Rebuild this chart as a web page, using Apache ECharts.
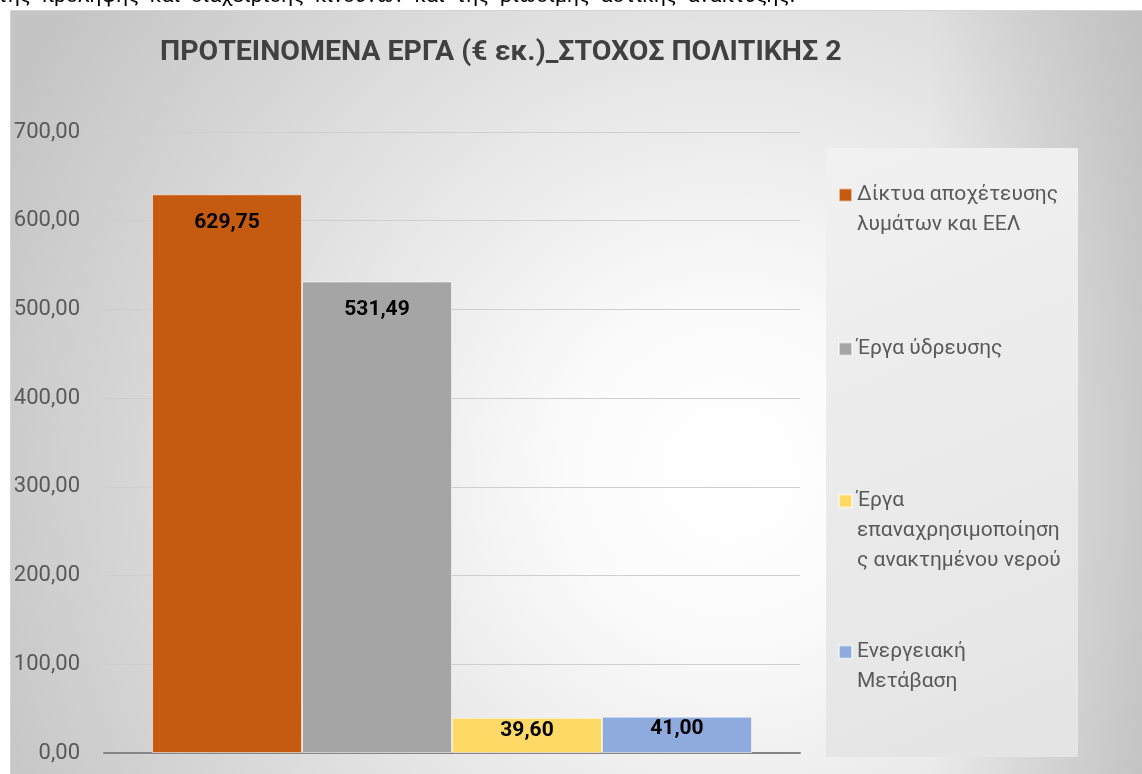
<!DOCTYPE html>
<html>
<head>
<meta charset="utf-8">
<title>ΠΡΟΤΕΙΝΟΜΕΝΑ ΕΡΓΑ</title>
<script src="https://cdn.jsdelivr.net/npm/echarts@6/dist/echarts.min.js"></script>
<style>
  html, body { margin: 0; padding: 0; background: #fff; }
  #chart { width: 1142px; height: 774px; }
</style>
</head>
<body>
<div id="chart"></div>
<script>
  // data
  var categories = ['ΣΤΟΧΟΣ ΠΟΛΙΤΙΚΗΣ 2'];
  var seriesNames = [
    'Δίκτυα αποχέτευσης λυμάτων και ΕΕΛ',
    'Έργα ύδρευσης',
    'Έργα επαναχρησιμοποίησης ανακτημένου νερού',
    'Ενεργειακή Μετάβαση'
  ];
  // how the legend wraps each name
  var legendLines = [
    ['Δίκτυα αποχέτευσης', 'λυμάτων και ΕΕΛ'],
    ['Έργα ύδρευσης'],
    ['Έργα', 'επαναχρησιμοποίηση', 'ς ανακτημένου νερού'],
    ['Ενεργειακή', 'Μετάβαση']
  ];
  var seriesValues = [629.75, 531.49, 39.60, 41.00];
  var yTicks = [0, 100, 200, 300, 400, 500, 600, 700];

  var colors = ['#C55A11', '#A5A5A5', '#FFD966', '#8FAADC'];
  var font = 'Roboto, "Noto Sans", sans-serif';
  var lineH = 30;

  function fmt(v) {
    return v.toFixed(2).replace('.', ',');
  }

  var chart = echarts.init(document.getElementById('chart'));

  var series = seriesNames.map(function (name, i) {
    return {
      name: name,
      type: 'bar',
      data: [seriesValues[i]],
      barGap: '0%',
      barCategoryGap: '13.8%',
      itemStyle: {
        color: colors[i],
        borderColor: 'rgba(255,255,255,0.55)',
        borderWidth: 1
      },
      label: {
        show: true,
        position: 'insideTop',
        // tall bars have the label lower down, short ones hug the top
        distance: seriesValues[i] > 100 ? 18 : 2,
        color: '#000',
        fontFamily: font,
        fontWeight: 'bold',
        fontSize: 21,
        formatter: function (p) { return fmt(p.value); }
      },
      emphasis: { disabled: true }
    };
  });

  // one legend per item so the entries sit at even steps like the original.
  // the icon is centred on the text block, so blank lines are put in front
  // to bring the first real line level with the square
  var legendTops = [195, 349, 501, 652];
  var legends = seriesNames.map(function (name, i) {
    var n = legendLines[i].length;
    var pad = '';
    for (var k = 1; k < n; k++) pad += ' \n';
    return {
      data: [name],
      orient: 'vertical',
      left: 838,
      top: legendTops[i] - (2 * n - 1) * lineH / 2,
      padding: 0,
      itemWidth: 13,
      itemHeight: 13,
      icon: 'rect',
      selectedMode: false,
      formatter: function () { return pad + legendLines[i].join('\n'); },
      textStyle: {
        color: '#595959',
        fontFamily: font,
        fontSize: 21,
        lineHeight: lineH
      }
    };
  });

  var option = {
    animation: false,
    backgroundColor: '#ffffff',
    title: {
      text: 'ΠΡΟΤΕΙΝΟΜΕΝΑ ΕΡΓΑ (€ εκ.)_ΣΤΟΧΟΣ ΠΟΛΙΤΙΚΗΣ 2',
      left: 160,
      top: 38,
      padding: 0,
      textStyle: {
        color: '#404040',
        fontFamily: font,
        fontWeight: 'bold',
        fontSize: 28.5
      }
    },
    graphic: [
      {
        type: 'rect',
        z: -10,
        shape: { x: 10.5, y: 10.5, width: 1140, height: 770 },
        style: {
          fill: {
            type: 'radial', x: 0.63, y: 0.6, r: 1.05,
            colorStops: [
              { offset: 0, color: '#ffffff' },
              { offset: 0.2, color: '#fbfbfb' },
              { offset: 1, color: '#c4c4c4' }
            ]
          },
          stroke: '#d4d4d4',
          lineWidth: 1
        }
      },
      {
        // the right side of the chart area goes darker faster
        type: 'rect',
        z: -10,
        zlevel: 0,
        shape: { x: 930, y: 11, width: 212, height: 763 },
        style: {
          fill: {
            type: 'linear', x: 0, y: 0, x2: 1, y2: 0,
            colorStops: [
              { offset: 0, color: 'rgba(175,175,175,0)' },
              { offset: 1, color: 'rgba(175,175,175,0.55)' }
            ]
          }
        }
      },
      {
        type: 'rect',
        z: -9,
        shape: { x: 826, y: 148, width: 252, height: 609 },
        style: {
          fill: {
            type: 'linear', x: 0, y: 0, x2: 1, y2: 1,
            colorStops: [
              { offset: 0, color: '#f1f1f1' },
              { offset: 1, color: '#e4e4e4' }
            ]
          }
        }
      },
      {
        // the line of text above the chart, cut off by the page edge
        type: 'text',
        x: -3,
        y: -3,
        style: {
          text: 'της  πρόληψης  και  διαχείρισης  κινδύνων  και  της  βιώσιμης  αστικής  ανάπτυξης.',
          fill: '#000',
          font: '21px ' + font,
          verticalAlign: 'middle'
        }
      }
    ],
    legend: legends,
    grid: {
      left: 104,
      right: 342,
      top: 132,
      bottom: 21
    },
    xAxis: {
      type: 'category',
      data: categories,
      axisTick: { show: false },
      axisLabel: { show: false },
      axisLine: { lineStyle: { color: '#858585', width: 2 } }
    },
    yAxis: {
      type: 'value',
      min: yTicks[0],
      max: yTicks[yTicks.length - 1],
      interval: yTicks[1] - yTicks[0],
      axisLine: { show: false },
      axisTick: { show: false },
      axisLabel: {
        margin: 24,
        color: '#595959',
        fontFamily: font,
        fontSize: 22,
        formatter: fmt
      },
      splitLine: { lineStyle: { color: '#cfcfcf', width: 1 } }
    },
    series: series
  };

  chart.setOption(option);
</script>
</body>
</html>
